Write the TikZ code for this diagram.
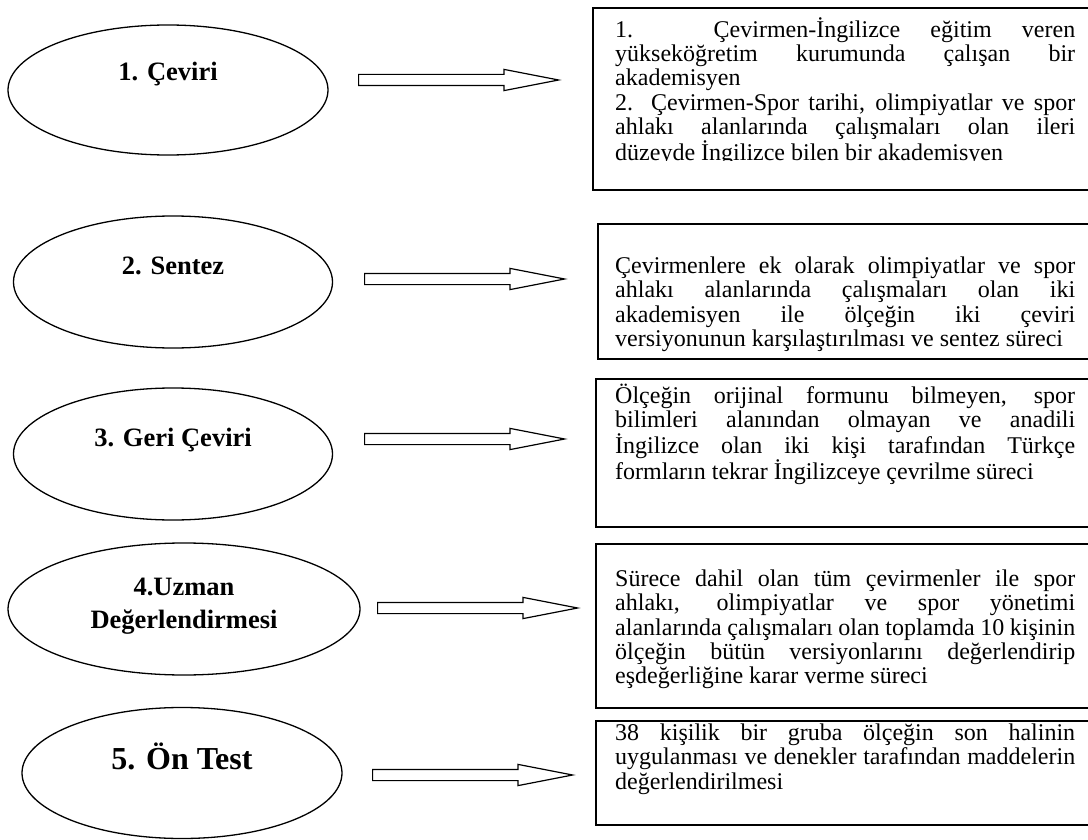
\documentclass[tikz,border=0pt]{standalone}
\usepackage{fontspec}
\setmainfont{Liberation Serif}
\usetikzlibrary{shapes.geometric,shapes.arrows}
\def\boxfont{\fontsize{24}{24.4}\selectfont\parindent=0pt\tolerance=10000\hbadness=10000\hyphenpenalty=10000\exhyphenpenalty=10000}
\def\tstrut{\rule{0pt}{22pt}}

\begin{document}
\begin{tikzpicture}[x=1pt,y=-1pt,
  oval/.style={draw,ellipse,line width=1.3pt,inner sep=0pt},
  lbl/.style={font=\fontsize{26.5}{33}\selectfont\bfseries,align=center,anchor=base},
  infobox/.style={draw,line width=1.8pt,anchor=north west,inner sep=0pt},
  txt/.style={anchor=north west,inner sep=0pt,text width=460pt,align=justify,font=\boxfont},
  fat/.style={draw,single arrow,line width=1.2pt,inner xsep=0pt,inner ysep=5pt,minimum height=200pt,
    minimum width=20pt,single arrow head extend=5pt,single arrow tip angle=22,anchor=tail}]
\useasboundingbox (0,0) rectangle (1088,840);
% ovals on the left
\node[oval,minimum width=320pt,minimum height=130pt] (e1) at (168,90) {};
\node[oval,minimum width=319pt,minimum height=132pt] (e2) at (173,282) {};
\node[oval,minimum width=319pt,minimum height=132pt] (e3) at (173,454) {};
\node[oval,minimum width=352pt,minimum height=132pt] (e4) at (184,609) {};
\node[oval,minimum width=320pt,minimum height=131pt] (e5) at (182,773) {};
\node[lbl] (l1) at (168,81) {1. Çeviri};
\node[lbl] (l2) at (173,274) {2. Sentez};
\node[lbl] (l3) at (173,446) {3. Geri Çeviri};
\node[lbl,anchor=center] (l4) at (184,606) {4.Uzman\\Değerlendirmesi};
\node[lbl,font=\fontsize{32}{38}\selectfont\bfseries] (l5) at (182,769) {5. Ön Test};
% arrows
\node[fat] (a1) at (358,80) {};
\node[fat] (a2) at (364,279) {};
\node[fat] (a3) at (364,439) {};
\node[fat] (a4) at (377,608) {};
\node[fat] (a5) at (372,775) {};
% boxes on the right
\node[infobox,minimum width=503pt,minimum height=182pt] (b1) at (592,7) {};
\node[infobox,minimum width=498pt,minimum height=135pt] (b2) at (597,223) {};
\node[infobox,minimum width=500pt,minimum height=148pt] (b3) at (595,378) {};
\node[infobox,minimum width=500pt,minimum height=164pt] (b4) at (595,543) {};
\node[infobox,minimum width=500pt,minimum height=104pt] (b5) at (595,720) {};
\begin{scope}
\clip (b1.north west) rectangle (1088,161);
\node[txt] (t1) at (615,15) {\tstrut 1. Çevirmen-İngilizce eğitim veren\linebreak
  yükseköğretim kurumunda çalışan bir\linebreak akademisyen\\
  2. Çevirmen-Spor tarihi, olimpiyatlar ve spor\linebreak
  ahlakı alanlarında çalışmaları olan ileri\linebreak
  düzeyde İngilizce bilen bir akademisyen};
\end{scope}
\node[txt] (t2) at (615,251) {\tstrut Çevirmenlere ek olarak olimpiyatlar ve spor\linebreak
  ahlakı alanlarında çalışmaları olan iki\linebreak
  akademisyen ile ölçeğin iki çeviri\linebreak
  versiyonunun karşılaştırılması ve sentez süreci};
\node[txt] (t3) at (615,381) {\tstrut Ölçeğin orijinal formunu bilmeyen, spor\linebreak
  bilimleri alanından olmayan ve anadili\linebreak
  İngilizce olan iki kişi tarafından Türkçe\linebreak
  formların tekrar İngilizceye çevrilme süreci};
\node[txt] (t4) at (615,564) {\tstrut Sürece dahil olan tüm çevirmenler ile spor\linebreak
  ahlakı, olimpiyatlar ve spor yönetimi\linebreak
  alanlarında çalışmaları olan toplamda 10 kişinin\linebreak
  ölçeğin bütün versiyonlarını değerlendirip\linebreak
  eşdeğerliğine karar verme süreci};
\node[txt] (t5) at (615,718) {\tstrut 38 kişilik bir gruba ölçeğin son halinin\linebreak
  uygulanması ve denekler tarafından maddelerin\linebreak
  değerlendirilmesi};
\end{tikzpicture}
\end{document}
